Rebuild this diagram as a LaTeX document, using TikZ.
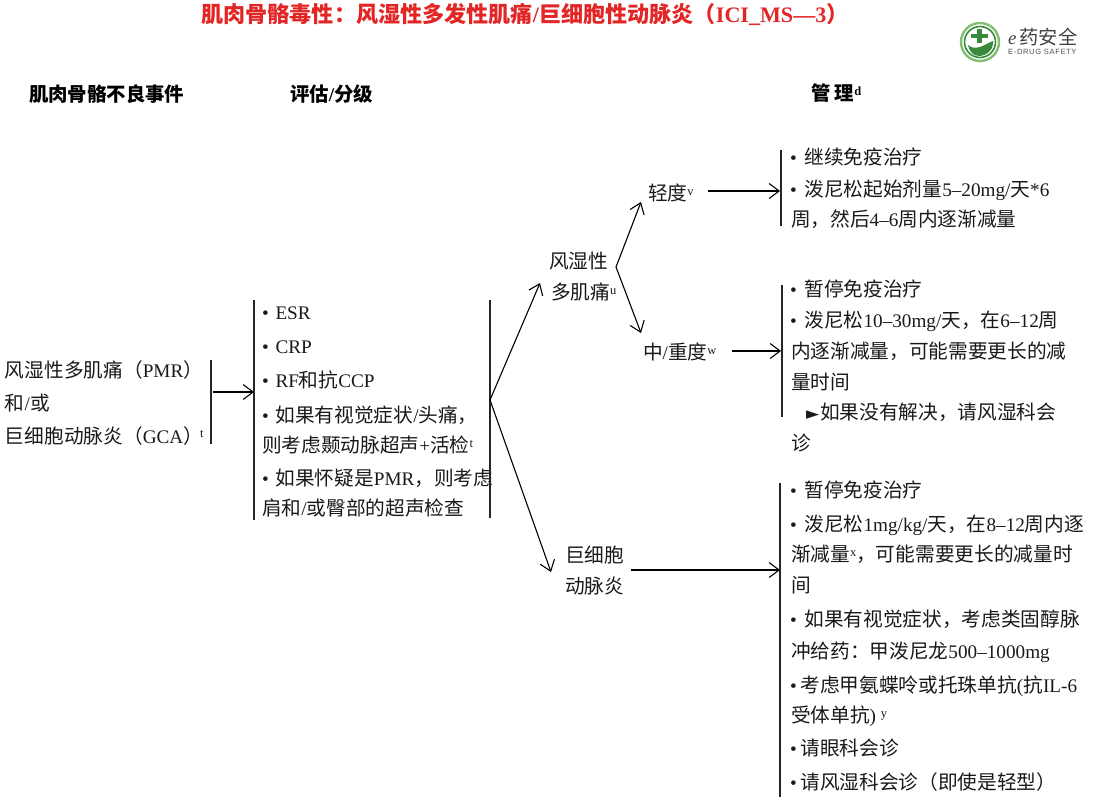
\documentclass[tikz,border=0pt]{standalone}
\usepackage{fontspec}
\setmainfont{Liberation Serif}
\newfontfamily\cjk{Noto Sans CJK SC}[Scale=1.025]
\newfontfamily\cjkb{Noto Sans CJK SC Bold}
\newfontfamily\sym{DejaVu Sans}
\newfontfamily\hei{Liberation Sans}[LetterSpace=8]
\newcommand\C[1]{{\cjk #1}}
\newcommand\B[1]{{\cjkb #1}}
\newcommand\sups[1]{\raisebox{5pt}{\fontsize{12.5}{12.5}\selectfont #1}}
\newcommand\bu{\makebox[14.5pt][l]{•}}
\newcommand\bm{\makebox[13.5pt][l]{•}}
\newcommand\bn{\makebox[10.5pt][l]{•}}
\usetikzlibrary{arrows.meta}
\definecolor{titlered}{RGB}{226,38,38}
\definecolor{logog}{RGB}{58,138,62}
\definecolor{logol}{RGB}{130,190,115}
\tikzset{
  txt/.style={anchor=base west,inner sep=0pt,outer sep=0pt,yshift=-1pt,font=\fontsize{19.2}{19}\selectfont,text=black!90},
  head/.style={txt,yshift=0pt,font=\fontsize{19.4}{19}\selectfont\bfseries,text=black},
  bar/.style={draw=black!85,line width=1.3pt},
  arr/.style={draw=black,line width=1.1pt,-{Straight Barb[length=10pt,width=15pt,line width=1.1pt]}},
}
\begin{document}
\begin{tikzpicture}[x=1pt,y=-1pt]
\useasboundingbox (0,0) rectangle (1094,806);
% title and headers
\node[anchor=base,inner sep=0pt,font=\fontsize{22.1}{22}\selectfont\bfseries,text=titlered] (title) at (525,22)
  {\B{肌肉骨骼毒性：风湿性多发性肌痛}/\B{巨细胞性动脉炎（}ICI\_MS—3\B{）}};
\node[head] (h1) at (29,100) {\B{肌肉骨骼不良事件}};
\node[head] (h2) at (290,100) {\B{评估}/\B{分级}};
\node[head] (h3) at (811,99) {\B{管\ 理}\sups{\bfseries d}};
% logo
\draw[logol,line width=2.4pt] (980,42) circle (19);
\draw[logog,line width=1.6pt] (980,42) circle (15.5);
\fill[logog] (977,29) rectangle (982,43);
\fill[logog] (971,33.5) rectangle (988,38);
\fill[logog] (968,45) .. controls (976,52) and (985,44) .. (993,41) .. controls (994,50) and (986,56) .. (979,56) .. controls (973,56) and (969,51) .. (968,45) -- cycle;
\node[anchor=base west,inner sep=0pt,font=\fontsize{18.8}{18}\selectfont\itshape,text=black!75] (logo1) at (1008,44) {e\,\C{药安全}};
\node[anchor=base west,inner sep=0pt,font=\hei\fontsize{7.6}{8}\selectfont,text=black!70] (logo2) at (1008,54) {E-DRUG SAFETY};
% left
\node[txt] (a1) at (5,376) {\C{风湿性多肌痛（}PMR\C{）}};
\node[txt] (a2) at (5,409) {\C{和}/\C{或}};
\node[txt] (a3) at (5,442) {\C{巨细胞动脉炎（}GCA\C{）}};
\node[anchor=base west,inner sep=0pt,font=\fontsize{12.5}{12.5}\selectfont,text=black!90] (a4) at (200,437) {t};
% middle list
\node[txt] (b1) at (262,318) {\bm ESR};
\node[txt] (b2) at (262,352) {\bm CRP};
\node[txt] (b3) at (262,386) {\bm RF\C{和抗}CCP};
\node[txt] (b4) at (262,421) {\bm\C{如果有视觉症状}/\C{头痛，}};
\node[txt] (b5) at (262,451) {\C{则考虑颞动脉超声}+\C{活检}\sups{t}};
\node[txt] (b6) at (262,484) {\bm\C{如果怀疑是}PMR\C{，则考虑}};
\node[txt] (b7) at (262,514) {\C{肩和}/\C{或臀部的超声检查}};
% branches
\node[txt] (c1) at (549,267) {\C{风湿性}};
\node[txt] (c2) at (551,298) {\C{多肌痛}\sups{u}};
\node[txt] (d1) at (648,199) {\C{轻度}\sups{v}};
\node[txt] (d2) at (643,358) {\C{中}/\C{重度}\sups{w}};
\node[txt] (e1) at (565,561) {\C{巨细胞}};
\node[txt] (e2) at (565,592) {\C{动脉炎}};
% right: mild
\node[txt] (r1) at (790,163) {\bu\C{继续免疫治疗}};
\node[txt] (r2) at (790,195) {\bu\C{泼尼松起始剂量}5–20mg/\C{天}*6};
\node[txt] (r3) at (791,225) {\C{周，然后}4–6\C{周内逐渐减量}};
% right: moderate
\node[txt] (s1) at (790,295) {\bu\C{暂停免疫治疗}};
\node[txt] (s2) at (790,326) {\bu\C{泼尼松}10–30mg/\C{天，在}6–12\C{周}};
\node[txt] (s3) at (791,357) {\C{内逐渐减量，可能需要更长的减}};
\node[txt] (s4) at (791,388) {\C{量时间}};
\node[txt] (s5) at (806,418) {\makebox[14pt][l]{\sym\fontsize{17}{17}\selectfont ►}\C{如果没有解决，请风湿科会}};
\node[txt] (s6) at (791,449) {\C{诊}};
% right: GCA
\node[txt] (t1) at (790,496) {\bu\C{暂停免疫治疗}};
\node[txt] (t2) at (790,530) {\bu\C{泼尼松}1mg/kg/\C{天，在}8–12\C{周内逐}};
\node[txt] (t3) at (791,560) {\C{渐减量}\sups{x}\C{，可能需要更长的减量时}};
\node[txt] (t4) at (791,591) {\C{间}};
\node[txt] (t5) at (790,625) {\bu\C{如果有视觉症状，考虑类固醇脉}};
\node[txt] (t6) at (791,657) {\C{冲给药：甲泼尼龙}500–1000mg};
\node[txt] (t7) at (790,691) {\bn\C{考虑甲氨蝶呤或托珠单抗}(\C{抗}IL-6};
\node[txt] (t8) at (791,721) {\C{受体单抗}) \sups{y}};
\node[txt] (t9) at (790,754) {\bn\C{请眼科会诊}};
\node[txt] (t10) at (790,788) {\bn\C{请风湿科会诊（即使是轻型）}};
% bars
\coordinate (ba1) at (211,360); \coordinate (ba2) at (211,444);
\coordinate (bb1) at (254,300); \coordinate (bb2) at (254,520);
\coordinate (bc1) at (490,300); \coordinate (bc2) at (490,518);
\coordinate (bd1) at (781,150); \coordinate (bd2) at (781,226);
\coordinate (be1) at (782,285); \coordinate (be2) at (782,417);
\coordinate (bf1) at (780,483); \coordinate (bf2) at (780,797);
\draw[bar] (ba1) -- (ba2);
\draw[bar] (bb1) -- (bb2);
\draw[bar] (bc1) -- (bc2);
\draw[bar] (bd1) -- (bd2);
\draw[bar] (be1) -- (be2);
\draw[bar] (bf1) -- (bf2);
% connectors
\coordinate (j0) at (213,392); \coordinate (k0) at (254,392);
\coordinate (j1) at (490,400); \coordinate (k1) at (540,283); \coordinate (k2) at (551,572);
\coordinate (j2) at (616,267); \coordinate (k3) at (641,202); \coordinate (k4) at (641,333);
\coordinate (j3) at (708,191); \coordinate (k5) at (780,191);
\coordinate (j4) at (732,351); \coordinate (k6) at (781,351);
\coordinate (j5) at (631,570); \coordinate (k7) at (780,570);
\draw[arr] (j0) -- (k0);
\draw[arr] (j1) -- (k1);
\draw[arr] (j1) -- (k2);
\draw[arr] (j2) -- (k3);
\draw[arr] (j2) -- (k4);
\draw[arr] (j3) -- (k5);
\draw[arr] (j4) -- (k6);
\draw[arr] (j5) -- (k7);
\end{tikzpicture}
\end{document}
